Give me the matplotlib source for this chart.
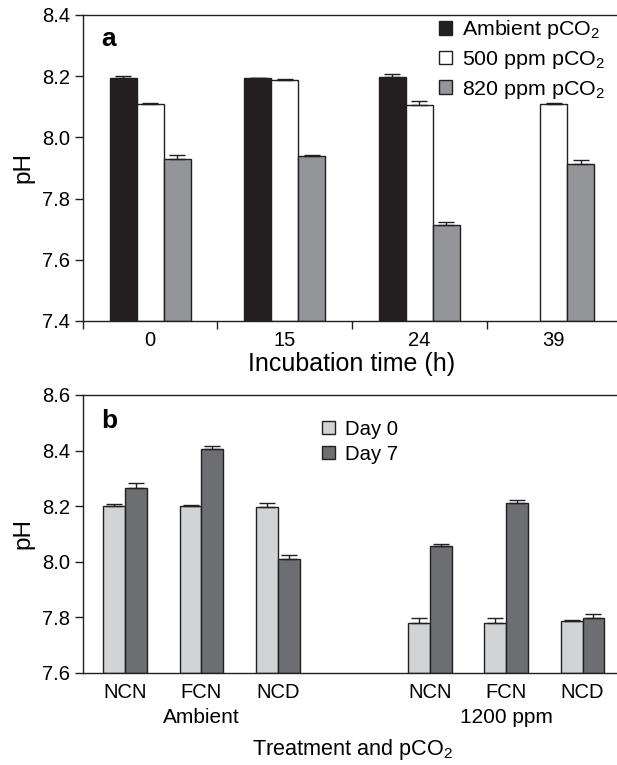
import numpy as np
import matplotlib
matplotlib.use("Agg")
import matplotlib.pyplot as plt
from matplotlib.patches import Patch

plt.rcParams['font.family'] = ['Liberation Sans', 'DejaVu Sans']
plt.rcParams['mathtext.fontset'] = 'custom'
plt.rcParams['mathtext.rm'] = 'Liberation Sans'
plt.rcParams['mathtext.it'] = 'Liberation Sans:italic'
plt.rcParams['mathtext.bf'] = 'Liberation Sans:bold'

# panel a: pH over incubation time
times = ['0', '15', '24', '39']
ambient = [8.195, 8.194, 8.198, np.nan]
ambient_err = [0.005, 0.001, 0.008, 0.0]
ppm500 = [8.109, 8.188, 8.106, 8.108]
ppm500_err = [0.005, 0.002, 0.013, 0.006]
ppm820 = [7.930, 7.939, 7.713, 7.912]
ppm820_err = [0.011, 0.004, 0.010, 0.015]

# panel b: pH by treatment and pCO2
treatments = ['NCN', 'FCN', 'NCD', 'NCN', 'FCN', 'NCD']
groups = ['Ambient', '1200 ppm']
day0 = [8.199, 8.199, 8.198, 7.780, 7.780, 7.786]
day0_err = [0.008, 0.007, 0.012, 0.017, 0.016, 0.006]
day7 = [8.265, 8.405, 8.011, 8.055, 8.211, 7.798]
day7_err = [0.019, 0.010, 0.013, 0.008, 0.010, 0.013]

edge = '#231f20'
tfs = 14.5

fig = plt.figure(figsize=(6.17, 7.65), dpi=100)
ax1 = fig.add_axes([0.1345, 0.5804, 0.872, 0.4])
ax2 = fig.add_axes([0.1345, 0.1203, 0.872, 0.3634])

def upper(err):
    err = np.asarray(err)
    return [np.zeros_like(err), err]

ekw = dict(ecolor=edge, capsize=5.5, elinewidth=1, capthick=1)

# ---- panel a
x = np.arange(len(times))
w = 0.2
series = [(ambient, ambient_err, edge, 'Ambient pCO$_\\mathregular{2}$'),
          (ppm500, ppm500_err, 'white', '500 ppm pCO$_\\mathregular{2}$'),
          (ppm820, ppm820_err, '#939598', '820 ppm pCO$_\\mathregular{2}$')]
handles = []
for i, (vals, err, col, lab) in enumerate(series):
    vals = np.asarray(vals)
    pos = x + (i - 1) * w
    ok = ~np.isnan(vals)
    ax1.bar(pos[ok], vals[ok] - 7.4, bottom=7.4, width=w, color=col,
            edgecolor=edge, linewidth=1)
    ax1.errorbar(pos[ok], vals[ok], yerr=[np.zeros(ok.sum()), np.asarray(err)[ok]],
                 fmt='none', **ekw)
    handles.append(Patch(facecolor=col, edgecolor=edge, label=lab))

ax1.set_ylim(7.4, 8.4)
ax1.set_yticks(np.arange(7.4, 8.41, 0.2))
ax1.set_yticklabels(['%.1f' % v for v in np.arange(7.4, 8.41, 0.2)])
ax1.set_xlim(-0.5, 3.5)
ax1.set_xticks([-0.5, 0.5, 1.5, 2.5])
ax1.set_xticklabels([])
ax1.set_xticks(x, minor=True)
ax1.set_xticklabels(times, minor=True)
ax1.tick_params(axis='x', which='minor', length=0, pad=7, labelsize=tfs)
ax1.tick_params(axis='x', which='major', length=6, width=1, color=edge)
ax1.tick_params(axis='y', length=6, width=1, color=edge, labelsize=tfs)
ax1.set_xlabel('Incubation time (h)', fontsize=18)
ax1.xaxis.set_label_coords(0.5, -0.14)
ax1.xaxis.label.set_va('center')
ax1.set_ylabel('pH', fontsize=17.5)
ax1.yaxis.set_label_coords(-0.111, 0.5)
ax1.yaxis.label.set_va('center')
ax1.text(0.048, 0.922, 'a', transform=ax1.transAxes, fontsize=19,
         fontweight='bold', va='center', ha='center')
ax1.legend(handles=handles, loc='upper left', bbox_to_anchor=(0.7115, 0.976),
           bbox_transform=fig.transFigure, frameon=False, fontsize=15.4,
           handlelength=0.61, handleheight=0.61, handletextpad=0.47,
           labelspacing=0.36, borderpad=0, borderaxespad=0)

# ---- panel b
pos = np.array([0, 1, 2, 4, 5, 6])
wb = 0.287
ax2.bar(pos - wb / 2, np.asarray(day0) - 7.6, bottom=7.6, width=wb,
        color='#d1d3d4', edgecolor=edge, linewidth=1)
ax2.bar(pos + wb / 2, np.asarray(day7) - 7.6, bottom=7.6, width=wb,
        color='#6d6e71', edgecolor=edge, linewidth=1)
ax2.errorbar(pos - wb / 2, day0, yerr=upper(day0_err), fmt='none', **ekw)
ax2.errorbar(pos + wb / 2, day7, yerr=upper(day7_err), fmt='none', **ekw)
hb = [Patch(facecolor='#d1d3d4', edgecolor=edge, label='Day 0'),
      Patch(facecolor='#6d6e71', edgecolor=edge, label='Day 7')]
ax2.legend(handles=hb, loc='upper left', bbox_to_anchor=(0.522, 0.451),
           bbox_transform=fig.transFigure, frameon=False, fontsize=14.6,
           handlelength=0.62, handleheight=0.62, handletextpad=0.5,
           labelspacing=0.28, borderpad=0, borderaxespad=0)

ax2.set_ylim(7.6, 8.6)
ax2.set_yticks(np.arange(7.6, 8.61, 0.2))
ax2.set_yticklabels(['%.1f' % v for v in np.arange(7.6, 8.61, 0.2)])
ax2.set_xlim(-0.555, 6.505)
ax2.set_xticks(pos)
ax2.set_xticklabels(treatments)
ax2.tick_params(axis='x', length=0, pad=7, labelsize=tfs)
ax2.tick_params(axis='y', length=6, width=1, color=edge, labelsize=tfs)
for gx, g in zip([1, 5], groups):
    ax2.text(gx, -0.16, g, transform=ax2.get_xaxis_transform(),
             ha='center', va='center', fontsize=15)
ax2.set_xlabel('Treatment and pCO$_\\mathregular{2}$', fontsize=15.6)
ax2.xaxis.set_label_coords(0.5, -0.275)
ax2.xaxis.label.set_va('center')
ax2.set_ylabel('pH', fontsize=17.5)
ax2.yaxis.set_label_coords(-0.111, 0.5)
ax2.yaxis.label.set_va('center')
ax2.text(0.048, 0.906, 'b', transform=ax2.transAxes, fontsize=19,
         fontweight='bold', va='center', ha='center')

for ax in (ax1, ax2):
    ax.spines['right'].set_visible(False)
    for s in ('left', 'bottom', 'top'):
        ax.spines[s].set_color(edge)
        ax.spines[s].set_linewidth(1)

fig.savefig('out.png', dpi=100)
